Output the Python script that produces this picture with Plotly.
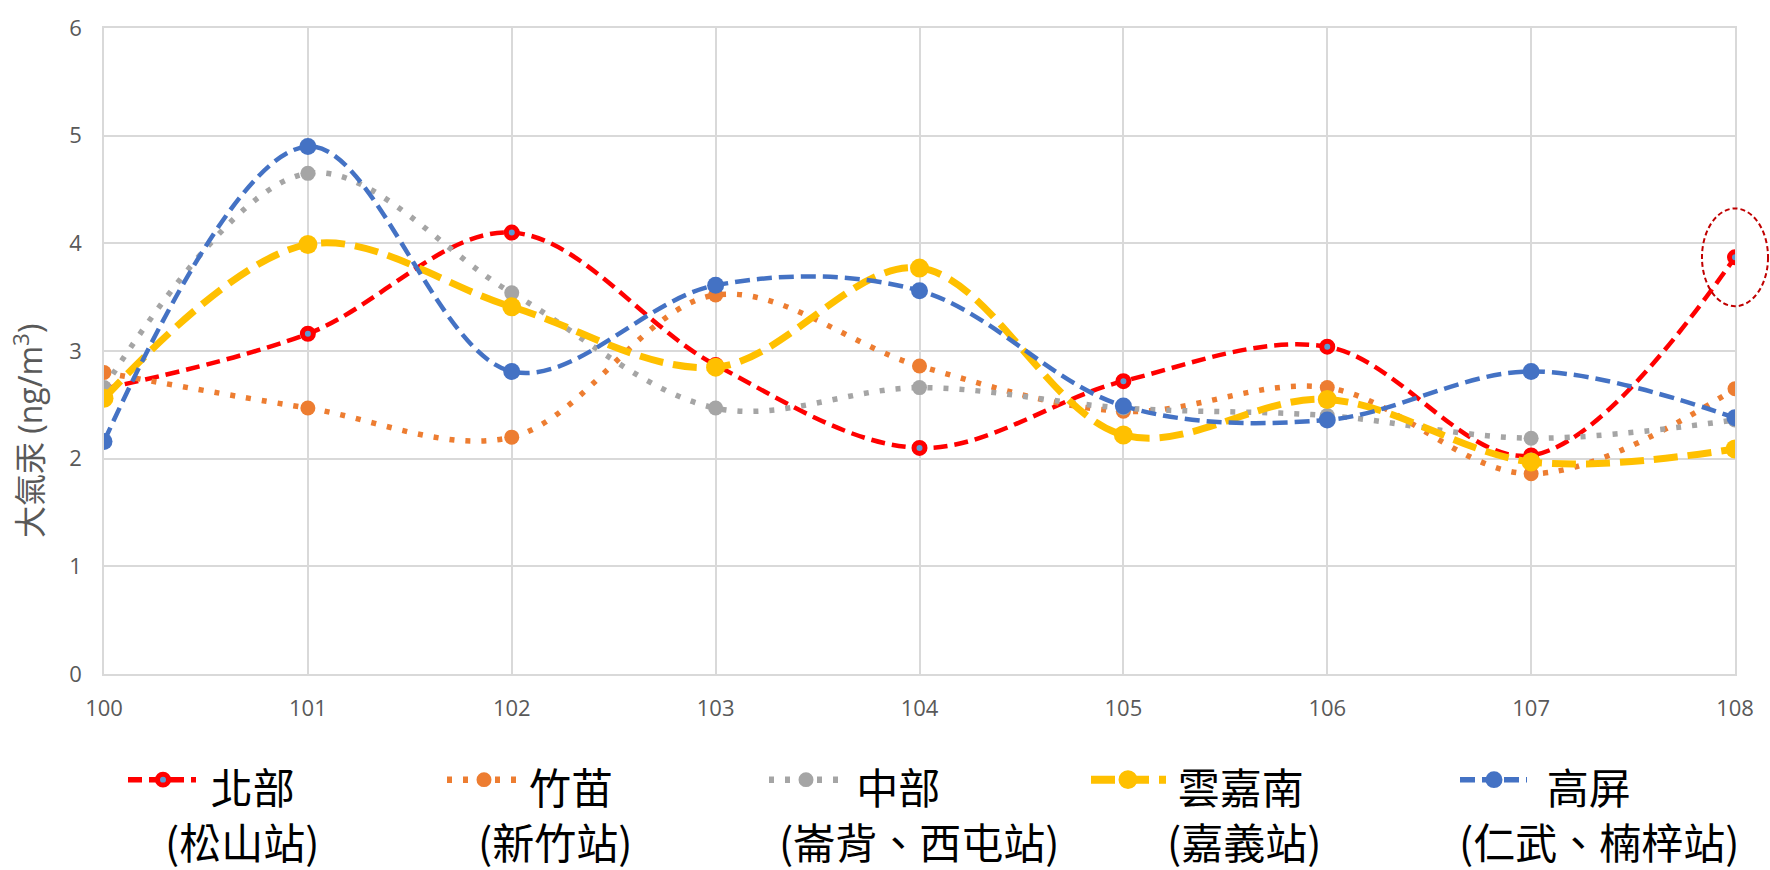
import plotly.graph_objects as go

# ---- data -----------------------------------------------------------------
years = [100, 101, 102, 103, 104, 105, 106, 107, 108]
north = [2.65, 3.16, 4.10, 2.87, 2.10, 2.72, 3.04, 2.03, 3.87]          # 北部 (松山站)
hsinchu_miaoli = [2.80, 2.47, 2.20, 3.52, 2.86, 2.44, 2.66, 1.86, 2.65]  # 竹苗 (新竹站)
central = [2.66, 4.65, 3.54, 2.47, 2.66, 2.47, 2.40, 2.19, 2.36]        # 中部 (崙背、西屯站)
yunchianan = [2.56, 3.99, 3.41, 2.85, 3.77, 2.22, 2.55, 1.97, 2.09]     # 雲嘉南 (嘉義站)
kaoping = [2.16, 4.90, 2.81, 3.61, 3.56, 2.49, 2.36, 2.81, 2.38]        # 高屏 (仁武、楠梓站)

region_names = ["北部", "竹苗", "中部", "雲嘉南", "高屏"]
station_names = ["(松山站)", "(新竹站)", "(崙背、西屯站)", "(嘉義站)", "(仁武、楠梓站)"]
y_ticks = [0, 1, 2, 3, 4, 5, 6]
y_title = "大氣汞 (ng/m<sup>3</sup>)"

# ---- page geometry (pixels) ---------------------------------------------
W, H = 1770, 870
ML, MR, MT, MB = 104, 35, 20, 196
PW, PH = W - ML - MR, H - MT - MB


def px(x):
    return (x - ML) / PW


def py(y):
    return (H - MB - y) / PH


# ---- series styling --------------------------------------------------------
styles = [
    dict(color="#FF0000", width=4.5, dash="14px,7px", msize=11, mfill="#5B9BD5",
         mline="#FF0000", mlw=5, lx=(128, 196), mx=163),
    dict(color="#ED7D31", width=5.5, dash="5px,11px", msize=15, mfill="#ED7D31",
         mline="#ED7D31", mlw=0, lx=(447, 520), mx=484),
    dict(color="#A5A5A5", width=5.5, dash="5px,11px", msize=15, mfill="#A5A5A5",
         mline="#A5A5A5", mlw=0, lx=(769, 843), mx=806),
    dict(color="#FFC000", width=7, dash="24px,10px", msize=19, mfill="#FFC000",
         mline="#FFC000", mlw=0, lx=(1091, 1166), mx=1128),
    dict(color="#4472C4", width=4.5, dash="15px,7px", msize=17, mfill="#4472C4",
         mline="#4472C4", mlw=0, lx=(1460, 1527), mx=1494),
]
series = [north, hsinchu_miaoli, central, yunchianan, kaoping]

fig = go.Figure()
for name, station, vals, st in zip(region_names, station_names, series, styles):
    fig.add_trace(go.Scatter(
        x=years, y=vals, name=f"{name}{station}",
        mode="lines+markers",
        line=dict(color=st["color"], width=st["width"], dash=st["dash"],
                  shape="spline", smoothing=1.0),
        marker=dict(symbol="circle", size=st["msize"], color=st["mfill"],
                    line=dict(color=st["mline"], width=st["mlw"])),
        showlegend=False,
    ))

shapes = []
annotations = []

# dashed ellipse highlighting the latest 北部 value
x_lo, x_hi = years[0], years[-1]
y_lo, y_hi = y_ticks[0], y_ticks[-1]
ex, ey = years[-1], north[-1]
half_w, half_h = 0.162, 0.454
shapes.append(dict(
    type="circle", xref="paper", yref="paper",
    x0=(ex - half_w - x_lo) / (x_hi - x_lo), x1=(ex + half_w - x_lo) / (x_hi - x_lo),
    y0=(ey - half_h - y_lo) / (y_hi - y_lo), y1=(ey + half_h - y_lo) / (y_hi - y_lo),
    line=dict(color="#C00000", width=2, dash="5px,3px"),
    fillcolor="rgba(0,0,0,0)", layer="above",
))

# legend drawn below the plot: sample line + marker and a two-line label
LEG_Y = 781
label_center = [242, 555, 919, 1244, 1599]
# spacing that nudges the first label line sideways within the centred block
EN, EM, QEM, SEM = "\u2002", "\u2003", "\u2005", "\u2006"
line1_pad = [(EN, ""), (EN + QEM, ""), ("", EM), ("", SEM), ("", EN)]
legend_font = dict(family="Noto Sans CJK TC", size=42, color="#000000")
for i, st in enumerate(styles):
    shapes.append(dict(
        type="line", xref="paper", yref="paper",
        x0=px(st["lx"][0]), x1=px(st["lx"][1]), y0=py(LEG_Y), y1=py(LEG_Y),
        line=dict(color=st["color"], width=st["width"] + 1, dash=st["dash"]),
    ))
    r = st["msize"] / 2
    shapes.append(dict(
        type="circle", xref="paper", yref="paper",
        x0=px(st["mx"] - r), x1=px(st["mx"] + r),
        y0=py(LEG_Y + r), y1=py(LEG_Y - r),
        fillcolor=st["mfill"],
        line=dict(color=st["mline"], width=st["mlw"]),
    ))
    lead, trail = line1_pad[i]
    annotations.append(dict(
        text=f"{lead}{region_names[i]}{trail}<br>{station_names[i]}",
        xref="paper", yref="paper",
        x=px(label_center[i]), y=py(815), xanchor="center", yanchor="middle",
        align="center", showarrow=False, font=legend_font,
    ))

# y-axis title
annotations.append(dict(
    text=y_title, xref="paper", yref="paper",
    x=px(28), y=py(428), xanchor="center", yanchor="middle",
    textangle=-90, showarrow=False,
    font=dict(family="Open Sans, Noto Sans CJK TC", size=32, color="#595959"),
))

grid = "#D9D9D9"
fig.update_layout(
    width=W, height=H, autosize=False,
    margin=dict(l=ML, r=MR, t=MT, b=MB, pad=0),
    paper_bgcolor="white", plot_bgcolor="white",
    font=dict(family="Open Sans, Noto Sans CJK TC", color="#595959"),
    xaxis=dict(
        range=[x_lo, x_hi], tickmode="array", tickvals=years,
        ticktext=[str(y) for y in years],
        showgrid=True, gridcolor=grid, gridwidth=1.5,
        showline=True, linecolor=grid, linewidth=1.5, mirror=True,
        ticks="", zeroline=False, ticklabelstandoff=14,
        tickfont=dict(size=22, color="#595959"),
    ),
    yaxis=dict(
        range=[y_lo, y_hi], tickmode="array", tickvals=y_ticks,
        showgrid=True, gridcolor=grid, gridwidth=1.5,
        showline=True, linecolor=grid, linewidth=1.5, mirror=True,
        ticks="", zeroline=False, ticklabelstandoff=16,
        tickfont=dict(size=22, color="#595959"),
    ),
    shapes=shapes,
    annotations=annotations,
    showlegend=False,
)

fig.write_html("out.html")
